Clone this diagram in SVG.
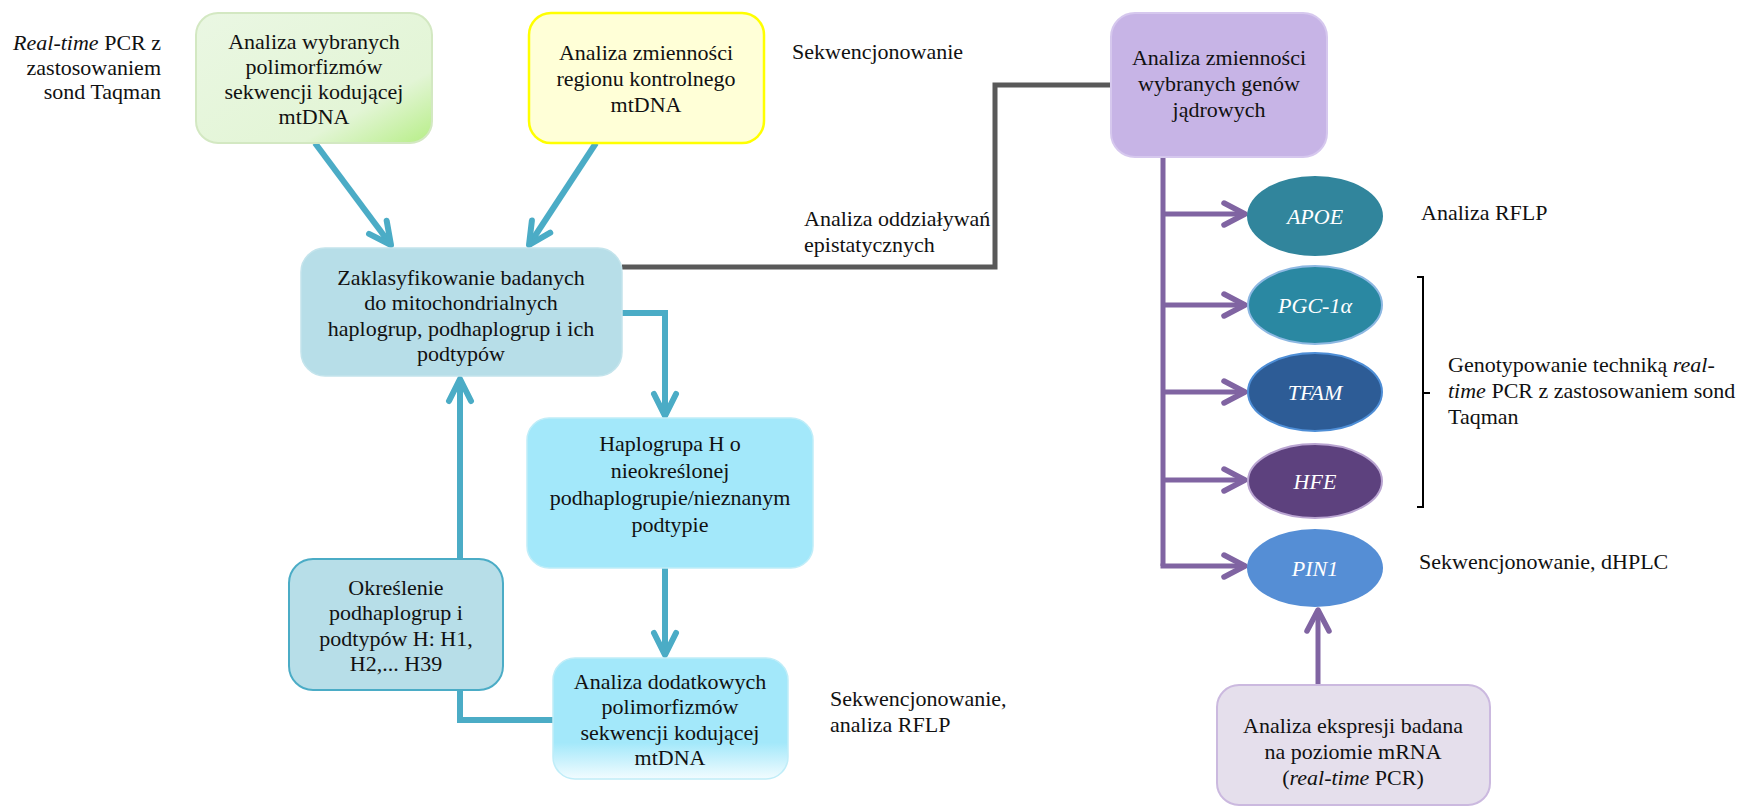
<svg xmlns="http://www.w3.org/2000/svg" width="1737" height="806" viewBox="0 0 1737 806">
  <defs>
    <style>
      text { font-family: "Liberation Serif", "Times New Roman", serif; font-size: 22px; fill: #111; }
      .c { text-anchor: middle; }
      .it { font-style: italic; }
      .gene { font-style: italic; fill: #fff; text-anchor: middle; font-size: 22px; }
      .blue { fill: none; stroke: #4BACC6; stroke-width: 6; stroke-linejoin: miter; }
      .purple { fill: none; stroke: #8064A2; stroke-width: 5; }
      .grey { fill: none; stroke: #595959; stroke-width: 5; }
    </style>
    <marker id="headBlue" markerUnits="userSpaceOnUse" viewBox="-28 -16 32 32" refX="0" refY="0" markerWidth="32" markerHeight="32" orient="auto">
      <path d="M-22,-11 L0,0 L-22,11" fill="none" stroke="#4BACC6" stroke-width="6" stroke-linecap="round" stroke-linejoin="round"/>
    </marker>
    <marker id="headPurple" markerUnits="userSpaceOnUse" viewBox="-28 -16 32 32" refX="0" refY="0" markerWidth="32" markerHeight="32" orient="auto">
      <path d="M-21,-11 L0,0 L-21,11" fill="none" stroke="#8064A2" stroke-width="5.5" stroke-linecap="round" stroke-linejoin="round"/>
    </marker>
    <linearGradient id="gGreen" x1="0" y1="0" x2="1" y2="1">
      <stop offset="0" stop-color="#EAF7E3"/>
      <stop offset="0.72" stop-color="#E3F5D6"/>
      <stop offset="1" stop-color="#B6EE86"/>
    </linearGradient>
    <linearGradient id="gCyan" x1="0" y1="0" x2="0" y2="1">
      <stop offset="0" stop-color="#A3E8FA"/>
      <stop offset="0.7" stop-color="#A3E8FA"/>
      <stop offset="1" stop-color="#F2FCFF"/>
    </linearGradient>
  </defs>

  <!-- connectors -->
  <g id="connectors">
    <polyline class="grey" points="622,267 995,267 995,85 1111,85"/>
    <line class="blue" x1="315" y1="143" x2="391" y2="245" marker-end="url(#headBlue)"/>
    <line class="blue" x1="596" y1="143" x2="529" y2="245" marker-end="url(#headBlue)"/>
    <polyline class="blue" points="622,313 665,313 665,416" marker-end="url(#headBlue)"/>
    <line class="blue" x1="665" y1="568" x2="665" y2="655" marker-end="url(#headBlue)"/>
    <polyline class="blue" points="553,720 460,720 460,690"/>
    <line class="blue" x1="460" y1="559" x2="460" y2="379" marker-end="url(#headBlue)"/>
    <polyline class="purple" points="1163,157 1163,566"/>
    <line class="purple" x1="1163" y1="214" x2="1245" y2="214" marker-end="url(#headPurple)"/>
    <line class="purple" x1="1163" y1="305" x2="1245" y2="305" marker-end="url(#headPurple)"/>
    <line class="purple" x1="1163" y1="392" x2="1245" y2="392" marker-end="url(#headPurple)"/>
    <line class="purple" x1="1163" y1="480" x2="1245" y2="480" marker-end="url(#headPurple)"/>
    <polyline class="purple" points="1160.5,566 1245,566" marker-end="url(#headPurple)"/>
    <line class="purple" x1="1318" y1="685" x2="1318" y2="610" marker-end="url(#headPurple)"/>
    <path d="M1417,277 L1423,277 L1423,507 L1417,507 M1423,393 L1430,393" fill="none" stroke="#000" stroke-width="2"/>
  </g>

  <!-- free labels -->
  <g id="labels">
    <text x="161" y="50" text-anchor="end"><tspan class="it">Real-time</tspan> PCR z</text>
    <text x="161" y="75" text-anchor="end">zastosowaniem</text>
    <text x="161" y="99" text-anchor="end">sond Taqman</text>
    <text x="792" y="59">Sekwencjonowanie</text>
    <text x="804" y="226">Analiza oddziaływań</text>
    <text x="804" y="252">epistatycznych</text>
    <text x="830" y="706">Sekwencjonowanie,</text>
    <text x="830" y="732">analiza RFLP</text>
    <text x="1421" y="220">Analiza RFLP</text>
    <text x="1448" y="372">Genotypowanie techniką <tspan class="it">real-</tspan></text>
    <text x="1448" y="398"><tspan class="it">time</tspan> PCR z zastosowaniem sond</text>
    <text x="1448" y="424">Taqman</text>
    <text x="1419" y="569">Sekwencjonowanie, dHPLC</text>
  </g>

  <g id="node-coding">
    <rect x="196" y="13" width="236" height="130" rx="22" fill="url(#gGreen)" stroke="#D3E8C2" stroke-width="2"/>
    <text class="c" x="314" y="49">Analiza wybranych</text>
    <text class="c" x="314" y="74">polimorfizmów</text>
    <text class="c" x="314" y="99">sekwencji kodującej</text>
    <text class="c" x="314" y="124">mtDNA</text>
  </g>

  <g id="node-control">
    <rect x="529" y="13" width="235" height="130" rx="22" fill="#FFFFD7" stroke="#FFFF00" stroke-width="2.5"/>
    <text class="c" x="646" y="60">Analiza zmienności</text>
    <text class="c" x="646" y="86">regionu kontrolnego</text>
    <text class="c" x="646" y="112">mtDNA</text>
  </g>

  <g id="node-nuclear">
    <rect x="1111" y="13" width="216" height="144" rx="24" fill="#C7B4E6" stroke="#D6C8EE" stroke-width="2"/>
    <text class="c" x="1219" y="65">Analiza zmienności</text>
    <text class="c" x="1219" y="91">wybranych genów</text>
    <text class="c" x="1219" y="117">jądrowych</text>
  </g>

  <g id="node-classify">
    <rect x="301" y="248" width="321" height="128" rx="24" fill="#B7DEE8" stroke="#C4E4EC" stroke-width="1.5"/>
    <text class="c" x="461" y="285">Zaklasyfikowanie badanych</text>
    <text class="c" x="461" y="310">do mitochondrialnych</text>
    <text class="c" x="461" y="336">haplogrup, podhaplogrup i ich</text>
    <text class="c" x="461" y="361">podtypów</text>
  </g>

  <g id="node-haplogroupH">
    <rect x="527" y="418" width="286" height="150" rx="22" fill="#A3E8FA" stroke="#C0EDF8" stroke-width="1.5"/>
    <text class="c" x="670" y="451">Haplogrupa H o</text>
    <text class="c" x="670" y="478">nieokreślonej</text>
    <text class="c" x="670" y="505">podhaplogrupie/nieznanym</text>
    <text class="c" x="670" y="532">podtypie</text>
  </g>

  <g id="node-additional">
    <rect x="553" y="658" width="235" height="121" rx="22" fill="url(#gCyan)" stroke="#C0EDF8" stroke-width="1.5"/>
    <text class="c" x="670" y="689">Analiza dodatkowych</text>
    <text class="c" x="670" y="714">polimorfizmów</text>
    <text class="c" x="670" y="740">sekwencji kodującej</text>
    <text class="c" x="670" y="765">mtDNA</text>
  </g>

  <g id="node-subgroups">
    <rect x="289" y="559" width="214" height="131" rx="24" fill="#B7DEE8" stroke="#4BACC6" stroke-width="2"/>
    <text class="c" x="396" y="595">Określenie</text>
    <text class="c" x="396" y="620">podhaplogrup i</text>
    <text class="c" x="396" y="646">podtypów H: H1,</text>
    <text class="c" x="396" y="671">H2,... H39</text>
  </g>

  <g id="node-APOE">
    <ellipse cx="1315" cy="216" rx="68" ry="40" fill="#31859C"/>
    <text class="gene" x="1315" y="224">APOE</text>
  </g>
  <g id="node-PGC1a">
    <ellipse cx="1315" cy="305" rx="67" ry="39" fill="#2A88A2" stroke="#8DB8E2" stroke-width="2"/>
    <text class="gene" x="1315" y="313">PGC-1α</text>
  </g>
  <g id="node-TFAM">
    <ellipse cx="1315" cy="392" rx="67" ry="39" fill="#2D5C96" stroke="#4E8ED6" stroke-width="2"/>
    <text class="gene" x="1315" y="400">TFAM</text>
  </g>
  <g id="node-HFE">
    <ellipse cx="1315" cy="481" rx="67" ry="37" fill="#5D417E" stroke="#B9A4D1" stroke-width="2"/>
    <text class="gene" x="1315" y="489">HFE</text>
  </g>
  <g id="node-PIN1">
    <ellipse cx="1315" cy="568" rx="68" ry="39" fill="#558ED5"/>
    <text class="gene" x="1315" y="576">PIN1</text>
  </g>

  <g id="node-expression">
    <rect x="1217" y="685" width="273" height="120" rx="22" fill="#E5DFEC" stroke="#CBB9DF" stroke-width="2"/>
    <text class="c" x="1353" y="733">Analiza ekspresji badana</text>
    <text class="c" x="1353" y="759">na poziomie mRNA</text>
    <text class="c" x="1353" y="785">(<tspan class="it">real-time</tspan> PCR)</text>
  </g>
</svg>
